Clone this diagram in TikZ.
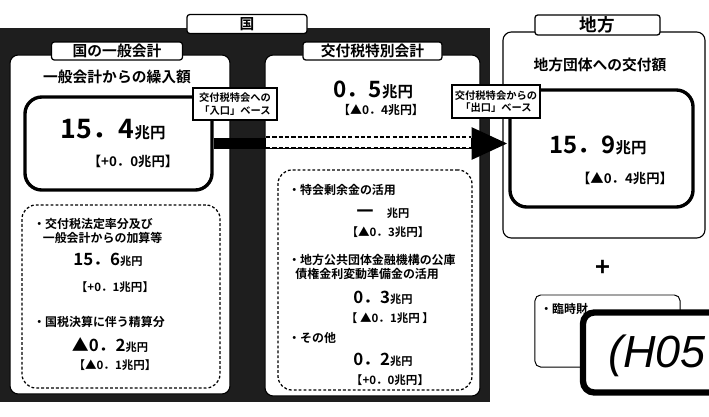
\documentclass[tikz,border=0pt]{standalone}
\usepackage{fontspec}
\setmainfont{Noto Sans CJK JP}[BoldFont={Noto Sans CJK JP Bold}]
\newfontfamily\stampfont{Liberation Sans}
\usetikzlibrary{arrows.meta,positioning}
\definecolor{scan}{HTML}{1E1E1E}
\newcommand{\choen}[1]{{\fontsize{#1}{#1}\selectfont 兆円}}

\begin{document}
\begin{tikzpicture}[x=0.025cm, y=-0.025cm,
    panel/.style={draw=black, line width=0.8pt, fill=white, rounded corners=6pt,
                  inner sep=0pt},
    tag/.style={draw=black, line width=0.9pt, fill=white, rounded corners=2pt,
                inner sep=0pt, font=\bfseries\fontsize{10.5}{12}\selectfont},
    bigbox/.style={draw=black, line width=2.4pt, fill=white, rounded corners=12pt,
                   inner sep=0pt},
    dashbox/.style={draw=black, line width=0.9pt, dash pattern=on 2pt off 1.5pt,
                    rounded corners=10pt, inner sep=0pt},
    gate/.style={draw=black, line width=0.9pt, fill=white, align=center,
                 inner sep=1pt, font=\bfseries\fontsize{7.3}{9}\selectfont},
    title/.style={inner sep=0pt, font=\bfseries\fontsize{10.5}{12}\selectfont},
    item/.style={anchor=west, align=left, inner sep=0pt,
                 font=\bfseries\fontsize{8.5}{10}\selectfont},
    num/.style={inner sep=0pt, font=\bfseries\fontsize{12}{14}\selectfont},
    diff/.style={inner sep=0pt, font=\bfseries\fontsize{8.2}{10}\selectfont},
    flow/.style={-{Triangle[length=26pt,width=21pt]}, line width=8.5pt, draw=black}]
  \useasboundingbox (0,0) rectangle (709,416);
  % dark back of the two national accounts
  \fill[scan] (0,28) rectangle (490,402);
  \node[tag, minimum width=3cm, minimum height=0.475cm] (kuni) at (247,24) {国};

  % general account
  \node[panel, minimum width=5.5cm, minimum height=8.475cm] (ippan) at (120,224.5) {};
  \node[tag, minimum width=3.275cm, minimum height=0.45cm] (ippantag) at (117,51) {国の一般会計};
  \node[title] (ippantitle) at (117,77) {一般会計からの繰入額};
  \node[bigbox, minimum width=4.675cm, minimum height=2.325cm] (kuriire) at (118.5,143.5) {};
  \node[num, font=\bfseries\fontsize{19}{22}\selectfont] (kuriirenum) at (113,130) {15．4\choen{11}};
  \node[diff, font=\bfseries\fontsize{9.5}{11}\selectfont] (kuriirediff) at (133,161) {【+0．0兆円】};
  \node[dashbox, minimum width=4.95cm, minimum height=4.575cm] (ippanbox) at (121,296.5) {};
  \node[item] (i1) at (33,231) {・交付税法定率分及び\\\hspace{0.8em}一般会計からの加算等};
  \node[num] (i1num) at (108,260) {15．6\choen{8}};
  \node[diff] (i1diff) at (115,287) {【+0．1兆円】};
  \node[item] (i2) at (33,322) {・国税決算に伴う精算分};
  \node[num] (i2num) at (110,345) {▲0．2\choen{8}};
  \node[diff] (i2diff) at (115,365) {【▲0．1兆円】};

  % special account
  \node[panel, minimum width=5.375cm, minimum height=8.525cm] (tokkai) at (372.5,225.5) {};
  \node[tag, minimum width=3.475cm, minimum height=0.45cm] (tokkaitag) at (372.5,51) {交付税特別会計};
  \node[num, font=\bfseries\fontsize{16}{18}\selectfont] (tokkainum) at (373,90) {0．5\choen{11}};
  \node[diff, font=\bfseries\fontsize{8.5}{10}\selectfont] (tokkaidiff) at (381,110) {【▲0．4兆円】};
  \node[dashbox, minimum width=4.85cm, minimum height=5.5cm] (tokkaibox) at (375,280) {};
  \node[item] (t1) at (288,190) {・特会剰余金の活用};
  \node[num] (t1num) at (383,213) {一\hspace{0.8em}\choen{8}};
  \node[diff] (t1diff) at (388,232) {【▲0．3兆円】};
  \node[item] (t2) at (288,267) {・地方公共団体金融機構の公庫\\\hspace{0.6em}債権金利変動準備金の活用};
  \node[num] (t2num) at (383,298) {0．3\choen{8}};
  \node[diff] (t2diff) at (390,318) {【 ▲0．1兆円 】};
  \node[item] (t3) at (288,338) {・その他};
  \node[num] (t3num) at (383,360) {0．2\choen{8}};
  \node[diff] (t3diff) at (390,380) {【+0．0兆円】};

  % local governments
  \node[panel, minimum width=5.05cm, minimum height=5.15cm] (chiho) at (604,135) {};
  \node[tag, minimum width=3.125cm, minimum height=0.5cm,
        font=\bfseries\fontsize{12.5}{14}\selectfont] (chihotag) at (597.5,25) {地方};
  \node[title] (chihotitle) at (600,65) {地方団体への交付額};
  \node[bigbox, minimum width=4.575cm, minimum height=2.925cm] (koufu) at (601.5,148.5) {};
  \node[num, font=\bfseries\fontsize{17}{20}\selectfont] (koufunum) at (598,145) {15．9\choen{11}};
  \node[diff, font=\bfseries\fontsize{9.5}{11}\selectfont] (koufudiff) at (625,178) {【▲0．4兆円】};
  \node[font=\bfseries\fontsize{18}{20}\selectfont] (plus) at (603,268) {+};
  \node[draw=black, line width=0.7pt, rounded corners=4pt, fill=white, inner sep=0pt,
        minimum width=3.625cm, minimum height=1.8cm] (rinji) at (607.5,331) {};
  \node[item] (rinjitext) at (540,309) {・臨時財};

  % flow from general account to local governments
  \draw[flow] (kuriire.east) -- (kuriire.east -| koufu.west);
  \fill[white] (266,137) rectangle (471,148);
  \draw[line width=0.8pt, dash pattern=on 3pt off 1.5pt]
    (266,137) -- (471,137) (266,148) -- (471,148);
  \node[gate, minimum width=2.1cm, minimum height=0.8cm] (iriguchi) at (235,104)
    {交付税特会への\\「入口」ベース};
  \node[gate, minimum width=2.2cm, minimum height=0.825cm] (deguchi) at (496,101.5)
    {交付税特会からの\\「出口」ベース};

  % stamp
  \node[draw=black, line width=4.5pt, rounded corners=8pt, fill=white, inner sep=0pt,
        minimum width=3.6cm, minimum height=2cm] (stamp) at (655,352.5) {};
  \node[anchor=west, inner sep=0pt, font=\stampfont\itshape\fontsize{32}{34}\selectfont]
    (stamptext) at (608,356) {(H05};
\end{tikzpicture}
\end{document}
